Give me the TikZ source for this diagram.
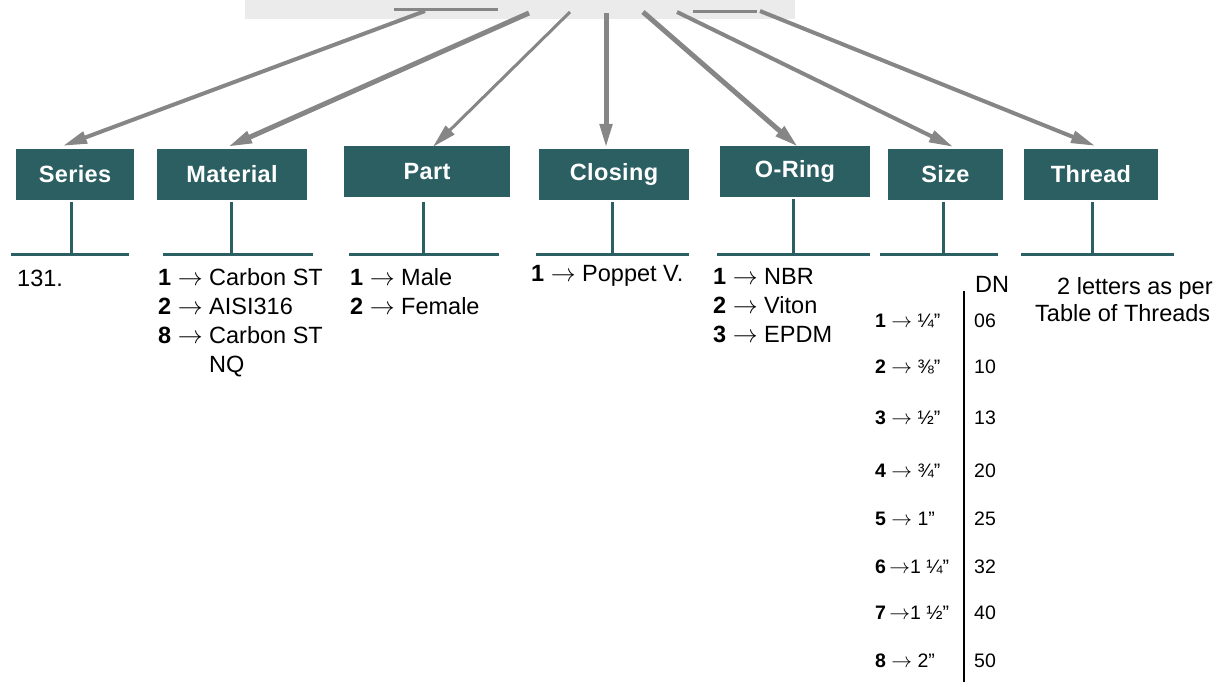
\documentclass[tikz,border=0pt]{standalone}
\usepackage{fontspec}
\setmainfont{Liberation Sans}
\newfontfamily\boxfont{Liberation Sans}[LetterSpace=1.5]
\usetikzlibrary{arrows.meta}
\definecolor{tealbox}{RGB}{44,95,98}
\definecolor{arrgray}{RGB}{134,134,134}
\definecolor{bggray}{RGB}{235,235,235}
\newcommand{\myra}{$\rightarrow$}
\begin{document}
\begin{tikzpicture}[x=1pt,y=-1pt,
  box/.style={fill=tealbox, draw=none, text=white, inner sep=0pt,
    font=\boxfont\bfseries\fontsize{23.5}{27}\selectfont,
    minimum height=51pt, minimum width=#1},
  bar/.style={draw=tealbox, line width=3pt},
  arr/.style={draw=arrgray, line width=#1, -{Triangle[length=24pt,width=12pt]}},
  topline/.style={draw=arrgray, line width=3pt},
  txt/.style={font=\fontsize{23.5}{29}\selectfont, anchor=base west, inner sep=0pt},
  sml/.style={font=\fontsize{19.5}{24}\selectfont, anchor=base west, inner sep=0pt},
]
\useasboundingbox (0,0) rectangle (1231,686);
% top code bar
\fill[bggray] (245,0) rectangle (795,19);
\draw[topline] (394,9) -- (498,9);
\draw[topline] (693,11) -- (757,11);
% boxes
\node[box=118] (series)   at (75,174.5)   {Series};
\node[box=150] (material) at (232,174.5)  {Material};
\node[box=166] (part)     at (427,171.5)  {Part};
\node[box=150] (closing)  at (614,174.5)  {Closing};
\node[box=150] (oring)    at (795,171.5)  {O-Ring};
\node[box=115] (size)     at (945.5,174.5){Size};
\node[box=134] (thread)   at (1091,174.5) {Thread};
% arrow starts
\coordinate (a1) at (425,11);
\coordinate (a2) at (529,13);
\coordinate (a3) at (570,12);
\coordinate (a4) at (606,13);
\coordinate (a5) at (643,12);
\coordinate (a6) at (677,12);
\coordinate (a7) at (760,11);
\draw[arr=4pt] (a1) -- ([xshift=-12pt,yshift=3pt]series.north);
\draw[arr=5pt] (a2) -- ([xshift=-4pt,yshift=2pt]material.north);
\draw[arr=3pt] (a3) -- ([xshift=6pt,yshift=-1pt]part.north);
\draw[arr=5pt] (a4) -- ([xshift=-8pt,yshift=1pt]closing.north);
\draw[arr=5pt] (a5) -- ([xshift=3pt,yshift=-1pt]oring.north);
\draw[arr=4pt] (a6) -- ([xshift=7.5pt,yshift=2pt]size.north);
\draw[arr=4pt] (a7) -- ([xshift=4pt,yshift=3pt]thread.north);
% bars under boxes
\coordinate (b1) at (71,254);
\coordinate (b2) at (231,254);
\coordinate (b3) at (423,254);
\coordinate (b4) at (612,254);
\coordinate (b5) at (793,254);
\coordinate (b6) at (943,254);
\coordinate (b7) at (1092,254);
\draw[bar] ([yshift=-2pt]b1|-series.south) -- (b1);
\draw[bar] ([yshift=-2pt]b2|-material.south) -- (b2);
\draw[bar] ([yshift=-5pt]b3|-part.south) -- (b3);
\draw[bar] ([yshift=-2pt]b4|-closing.south) -- (b4);
\draw[bar] ([yshift=-2pt]b5|-oring.south) -- (b5);
\draw[bar] ([yshift=-2pt]b6|-size.south) -- (b6);
\draw[bar] ([yshift=-2pt]b7|-thread.south) -- (b7);
\draw[bar] (11,254) -- (129,254);
\draw[bar] (163,254) -- (313,254);
\draw[bar] (349,254) -- (499,254);
\draw[bar] (536,254) -- (689,254);
\draw[bar] (717,254) -- (870,254);
\draw[bar] (880,254) -- (998,254);
\draw[bar] (1021,254) -- (1174,254);
% Series text
\node[txt] (t131) at (17,286) {131.};
% Material
\node[txt] (m1) at (158,285) {\textbf{1} \myra{} Carbon ST};
\node[txt] (m2) at (158,314) {\textbf{2} \myra{} AISI316};
\node[txt] (m3) at (158,343) {\textbf{8} \myra{} Carbon ST};
\node[txt] (m4) at (158,372) {\phantom{\textbf{8} \myra{} }NQ};
% Part
\node[txt] (p1) at (350,285) {\textbf{1} \myra{} Male};
\node[txt] (p2) at (350,314) {\textbf{2} \myra{} Female};
% Closing
\node[txt] (c1) at (531,281) {\textbf{1} \myra{} Poppet V.};
% O-Ring
\node[txt] (o1) at (713,284) {\textbf{1} \myra{} NBR};
\node[txt] (o2) at (713,313) {\textbf{2} \myra{} Viton};
\node[txt] (o3) at (713,342) {\textbf{3} \myra{} EPDM};
% Size table
\node[txt] (dn) at (975,292) {DN};
\draw[line width=2.5pt] (964,291) -- (964,682);
\node[sml] (s1) at (875,327) {\textbf{1} \myra{} ¼”};
\node[sml] (s2) at (875,373) {\textbf{2} \myra{} ⅜”};
\node[sml] (s3) at (875,424) {\textbf{3} \myra{} ½”};
\node[sml] (s4) at (875,477) {\textbf{4} \myra{} ¾”};
\node[sml] (s5) at (875,525) {\textbf{5} \myra{} 1”};
\node[sml] (s6) at (875,573) {\textbf{6}\,\myra1 ¼”};
\node[sml] (s7) at (875,619) {\textbf{7}\,\myra1 ½”};
\node[sml] (s8) at (875,667) {\textbf{8} \myra{} 2”};
\node[sml] (d1) at (974,327) {06};
\node[sml] (d2) at (974,373) {10};
\node[sml] (d3) at (974,424) {13};
\node[sml] (d4) at (974,477) {20};
\node[sml] (d5) at (974,525) {25};
\node[sml] (d6) at (974,573) {32};
\node[sml] (d7) at (974,619) {40};
\node[sml] (d8) at (974,667) {50};
% Thread text
\node[txt] (th1) at (1057,294) {2 letters as per};
\node[txt] (th2) at (1035,321) {Table of Threads};
\end{tikzpicture}
\end{document}
